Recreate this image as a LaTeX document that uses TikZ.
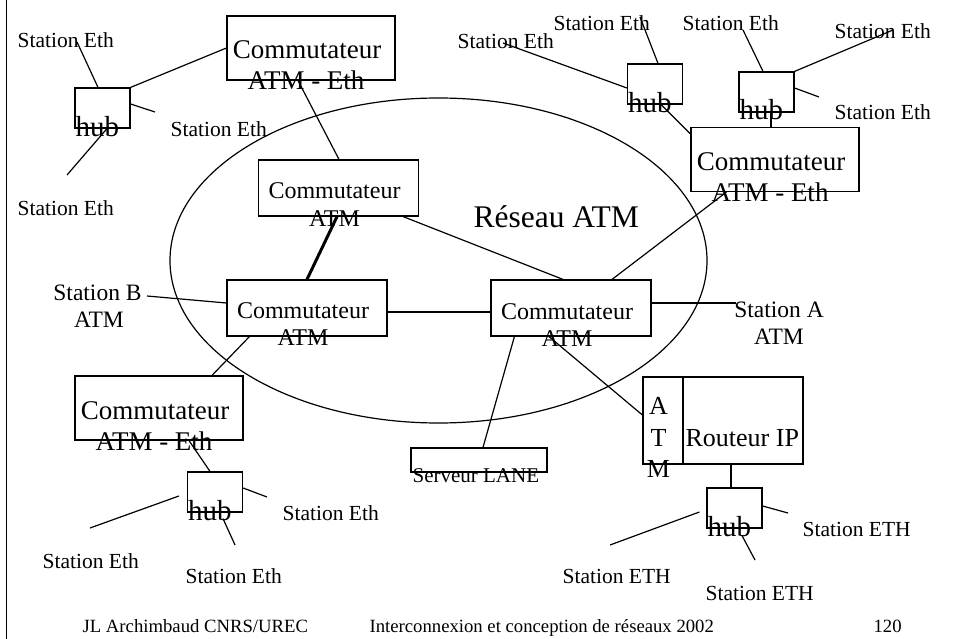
\documentclass[tikz,border=0pt]{standalone}
\usepackage{fontspec}
\setmainfont{Liberation Serif}
\usetikzlibrary{shapes.geometric}
\begin{document}
\begin{tikzpicture}[x=1pt,y=-1pt, line width=1.2pt,
  box/.style={draw, rectangle, inner sep=0pt, minimum width=160pt, minimum height=56pt},
  bigbox/.style={draw, rectangle, inner sep=0pt, minimum width=168pt, minimum height=64pt},
  hubbox/.style={draw, rectangle, inner sep=0pt, minimum width=55pt, minimum height=40pt},
  lbl/.style={inner sep=0pt, anchor=base west, font=\fontsize{21.5}{26}\selectfont},
  lblc/.style={inner sep=0pt, anchor=base, font=\fontsize{23.5}{28}\selectfont},
  bigtxt/.style={inner sep=0pt, anchor=base, font=\fontsize{27}{32}\selectfont},
  smtxt/.style={inner sep=0pt, anchor=base, font=\fontsize{24}{28}\selectfont},
  hubtxt/.style={inner sep=0pt, anchor=base west, font=\fontsize{29}{34}\selectfont},
  rtxt/.style={inner sep=0pt, font=\fontsize{26}{31}\selectfont},
  foot/.style={inner sep=0pt, anchor=base west, font=\fontsize{18.7}{22}\selectfont}
]
\useasboundingbox (0,0) rectangle (953,639);

% left frame line
\draw (6.5,0) -- (6.5,639);

% network ellipse
\node[draw, ellipse, inner sep=0pt, minimum width=537pt, minimum height=325pt] (net) at (438.5,260.5) {};
\node[inner sep=0pt, anchor=base west, font=\fontsize{31.5}{36}\selectfont] (netlbl) at (473,228) {Réseau ATM};

% boxes
\node[bigbox] (swTL) at (311,48) {};
\node[bigbox] (swTR) at (775,159.5) {};
\node[bigbox] (swBL) at (159,408) {};
\node[box] (atmT) at (338.5,188) {};
\node[box] (atmL) at (307,308) {};
\node[box] (atmR) at (571,308) {};
\node[hubbox] (hubTL) at (102.5,108) {};
\node[hubbox] (hubTC) at (655,84) {};
\node[hubbox] (hubTR) at (766.5,92) {};
\node[hubbox] (hubBL) at (215,492) {};
\node[hubbox] (hubBR) at (734.5,508) {};
\node[draw, rectangle, inner sep=0pt, minimum width=40pt, minimum height=87pt] (rtA) at (663,420.5) {};
\node[draw, rectangle, inner sep=0pt, minimum width=120pt, minimum height=87pt] (rtR) at (743,420.5) {};
\node[draw, rectangle, inner sep=0pt, minimum width=136pt, minimum height=24pt] (lane) at (479,460) {};

% box texts
\node[bigtxt] (swTLa) at (307,59) {Commutateur};
\node[bigtxt] (swTLb) at (306,90) {ATM - Eth};
\node[bigtxt] (swTRa) at (771,171) {Commutateur};
\node[bigtxt] (swTRb) at (770,202) {ATM - Eth};
\node[bigtxt] (swBLa) at (155,419) {Commutateur};
\node[bigtxt] (swBLb) at (154,450) {ATM - Eth};
\node[smtxt] (atmTa) at (334.5,199) {Commutateur};
\node[smtxt] (atmTb) at (334.5,226) {ATM};
\node[smtxt] (atmLa) at (303,318.5) {Commutateur};
\node[smtxt] (atmLb) at (303,345.5) {ATM};
\node[smtxt] (atmRa) at (567,319) {Commutateur};
\node[smtxt] (atmRb) at (567,346) {ATM};
\node[hubtxt] (hTLt) at (75,137) {hub};
\node[hubtxt] (hTCt) at (627.5,112.5) {hub};
\node[hubtxt] (hTRt) at (739,120) {hub};
\node[hubtxt] (hBLt) at (187.5,520) {hub};
\node[hubtxt] (hBRt) at (707,536.5) {hub};
\node[rtxt, anchor=base west] (rtt) at (685,446) {Routeur IP};
\node[rtxt, anchor=base] (rtA1) at (658.5,414) {A};
\node[rtxt, anchor=base] (rtA2) at (658.5,446) {T};
\node[rtxt, anchor=base] (rtA3) at (658.5,477) {M};
\node[inner sep=0pt, anchor=base west, font=\fontsize{21}{25}\selectfont] (lanet) at (412,482) {Serveur LANE};

% station labels
\node[lbl] (s1) at (17,48) {Station Eth};
\node[lbl] (s2) at (170,137) {Station Eth};
\node[lbl] (s3) at (17,215) {Station Eth};
\node[lbl] (s4) at (457,49) {Station Eth};
\node[lbl] (s5) at (553,31) {Station Eth};
\node[lbl] (s6) at (682,31) {Station Eth};
\node[lbl] (s7) at (834,39) {Station Eth};
\node[lbl] (s8) at (834,120) {Station Eth};
\node[lbl] (s9) at (282,520) {Station Eth};
\node[lbl] (s10) at (42,568) {Station Eth};
\node[lbl] (s11) at (185,583) {Station Eth};
\node[lbl] (e1) at (802,536) {Station ETH};
\node[lbl] (e2) at (562,583) {Station ETH};
\node[lbl] (e3) at (705,600) {Station ETH};
\node[lblc] (sB1) at (97.5,300) {Station B};
\node[lblc] (sB2) at (99,327) {ATM};
\node[lblc] (sA1) at (779,317) {Station A};
\node[lblc] (sA2) at (779,344) {ATM};

% footer
\node[foot] (f1) at (82,632) {JL Archimbaud CNRS/UREC};
\node[foot] (f2) at (369,632) {Interconnexion et conception de réseaux 2002};
\node[foot] (f3) at (873,632) {120};

% free ends
\coordinate (cA) at (736,303);
\coordinate (cB) at (147,296);
\coordinate (t1) at (77,42);
\coordinate (t2) at (155,112);
\coordinate (t3) at (67,175);
\coordinate (t4) at (503,43);
\coordinate (t5) at (640,17);
\coordinate (t6) at (743,30);
\coordinate (t7) at (893,30);
\coordinate (t8) at (819,97);
\coordinate (t9) at (267,497);
\coordinate (t10) at (90,528);
\coordinate (t11) at (235,545);
\coordinate (t12) at (788,513);
\coordinate (t13) at (610,545);
\coordinate (t14) at (755,560);

% connectors between boxes
\draw (hubTL.north east) -- (swTL.west);
\draw ([xshift=-13pt]swTL.south) -- ([xshift=0.5pt]atmT.north);
\draw[line width=3pt] ([xshift=-1.5pt]atmT.south) -- (atmL.north);
\draw ([xshift=-16pt]atmT.south east) -- ([xshift=-8pt]atmR.north);
\draw ([yshift=-4pt]atmL.east) -- ([yshift=-4pt]atmR.west);
\draw ([xshift=41pt]atmR.north) -- ([xshift=36pt]swTR.south west);
\draw ([yshift=5pt]atmR.east) -- (cA);
\draw ([xshift=24pt]atmR.south west) -- ([xshift=4pt]lane.north);
\draw ([xshift=-22pt]atmR.south) -- ([yshift=5.5pt]rtA.west);
\draw ([xshift=-12pt]rtR.south) -- ([xshift=-3.5pt]hubBR.north);
\draw ([yshift=5pt]atmL.west) -- (cB);
\draw ([xshift=23pt]atmL.south west) -- ([xshift=53pt]swBL.north);
\draw ([xshift=30pt]swBL.south) -- ([xshift=-5pt]hubBL.north);
\draw ([xshift=6pt]hubTC.south) -- ([yshift=-7pt]swTR.north west);
\draw ([xshift=4.5pt]hubTR.south) -- ([xshift=-4pt]swTR.north);

% hub spokes
\draw ([xshift=-4.5pt]hubTL.north) -- (t1);
\draw ([yshift=4pt]hubTL.east) -- (t2);
\draw ([xshift=4.5pt]hubTL.south) -- (t3);
\draw ([yshift=-4pt]hubTC.west) -- (t4);
\draw ([xshift=3pt]hubTC.north) -- (t5);
\draw ([xshift=-3.5pt]hubTR.north) -- (t6);
\draw (hubTR.north east) -- (t7);
\draw ([yshift=4pt]hubTR.east) -- (t8);
\draw ([yshift=4pt]hubBL.east) -- (t9);
\draw ([xshift=-8pt,yshift=-4pt]hubBL.west) -- (t10);
\draw ([xshift=8pt,yshift=-6pt]hubBL.south) -- (t11);
\draw ([yshift=2pt]hubBR.east) -- (t12);
\draw ([xshift=-7pt,yshift=-4pt]hubBR.west) -- (t13);
\draw ([xshift=7.5pt,yshift=-7pt]hubBR.south) -- (t14);
\end{tikzpicture}
\end{document}
